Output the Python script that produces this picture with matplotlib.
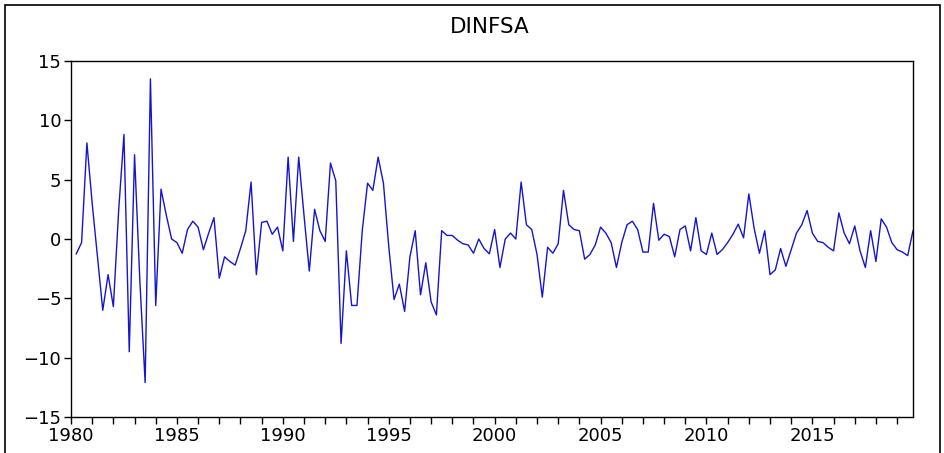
import numpy as np
import matplotlib.pyplot as plt
from matplotlib.patches import Rectangle

# --- Data: DINFSA, quarterly, 1980Q2 - 2019Q4 (1980Q1 lost to differencing) ---
start_year = 1980.25
dinfsa = [
    -1.25, -0.3, 8.1, 3.0, -1.5, -6.0, -3.0, -5.7, 2.4, 8.8,
    -9.5, 7.1, -3.5, -12.1, 13.5, -5.6, 4.2, 2.0, 0.0, -0.3,
    -1.2, 0.8, 1.5, 1.0, -0.9, 0.5, 1.8, -3.3, -1.5, -1.9,
    -2.2, -0.8, 0.7, 4.8, -3.0, 1.4, 1.5, 0.4, 1.0, -1.0,
    6.9, -0.2, 6.9, 2.0, -2.7, 2.5, 0.7, -0.2, 6.4, 4.9,
    -8.8, -1.0, -5.6, -5.6, 0.7, 4.7, 4.1, 6.9, 4.7, -0.6,
    -5.1, -3.8, -6.1, -1.5, 0.7, -4.7, -2.0, -5.3, -6.4, 0.7,
    0.3, 0.3, -0.1, -0.4, -0.5, -1.2, 0.0, -0.8, -1.25, 0.8,
    -2.4, 0.0, 0.5, 0.0, 4.8, 1.2, 0.8, -1.3, -4.9, -0.7,
    -1.2, -0.4, 4.1, 1.2, 0.8, 0.7, -1.7, -1.3, -0.5, 1.0,
    0.5, -0.3, -2.4, -0.3, 1.2, 1.5, 0.8, -1.1, -1.1, 3.0,
    -0.1, 0.4, 0.2, -1.5, 0.8, 1.1, -1.0, 1.8, -1.0, -1.3,
    0.5, -1.3, -0.9, -0.3, 0.4, 1.25, 0.1, 3.8, 0.9, -1.2,
    0.7, -3.0, -2.6, -0.8, -2.3, -0.9, 0.5, 1.2, 2.4, 0.5,
    -0.2, -0.3, -0.7, -1.0, 2.2, 0.5, -0.4, 1.1, -1.0, -2.4,
    0.7, -1.9, 1.7, 1.0, -0.3, -0.9, -1.1, -1.4, 0.7,
]
title = "DINFSA"
year_ticks = list(range(1980, 2020))
label_years = [1980, 1985, 1990, 1995, 2000, 2005, 2010, 2015]
y_ticks = [-15, -10, -5, 0, 5, 10, 15]

t = start_year + 0.25 * np.arange(len(dinfsa))

fig = plt.figure(figsize=(9.45, 4.53), dpi=100)
fig.patch.set_facecolor('white')
ax = fig.add_axes([71 / 945, 1 - 417 / 453, (913 - 71) / 945, (417 - 61) / 453])

ax.plot(t, dinfsa, color='#1414d2', lw=1.0)

ax.set_xlim(1980.0, 2019.75)
ax.set_ylim(-15, 15)
ax.set_xticks(year_ticks)
ax.set_xticklabels([str(y) if y in label_years else '' for y in year_ticks])
ax.set_yticks(y_ticks)
ax.tick_params(direction='out', length=5, width=1, labelsize=13, colors='black', pad=2)
for s in ax.spines.values():
    s.set_linewidth(1.0)

fig.text(490 / 945, 1 - 27 / 453, title, ha='center', va='center', fontsize=15.5)

# outer frame around the whole graph
fig.patches.append(Rectangle((5 / 945, -0.02), 935 / 945, 1 - 5 / 453 + 0.02,
                             transform=fig.transFigure, fill=False,
                             edgecolor='black', lw=1.2))

fig.savefig('out.png', dpi=100)
